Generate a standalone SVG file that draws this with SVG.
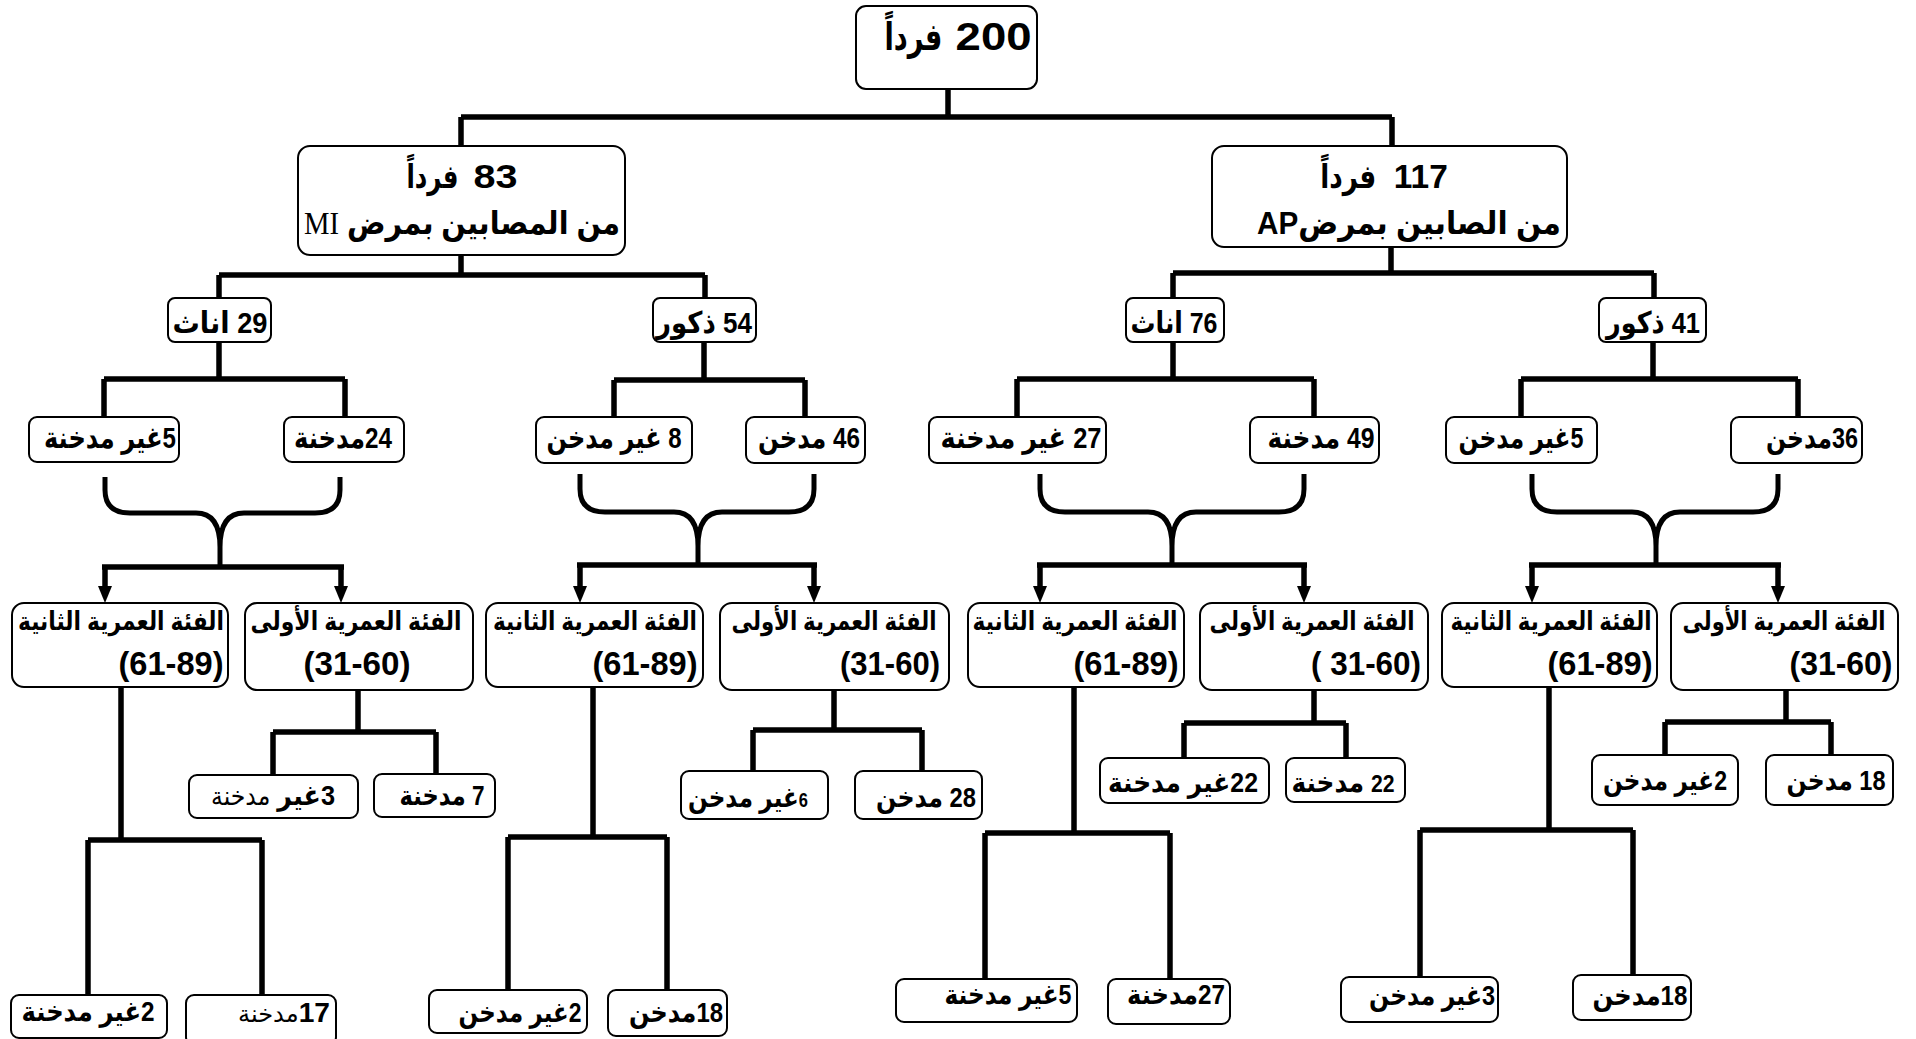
<svg xmlns="http://www.w3.org/2000/svg" width="1916" height="1039" viewBox="0 0 1916 1039">
<style>
.bx{fill:#fff;stroke:#000;stroke-width:2}
.t{font-family:"Liberation Sans","DejaVu Sans",sans-serif;font-weight:bold;fill:#000;text-anchor:middle;direction:rtl}
.n{font-family:"Liberation Sans","DejaVu Sans",sans-serif;font-weight:bold;fill:#000;text-anchor:middle}
.c{fill:none;stroke:#000;stroke-width:5.5}
.b{fill:none;stroke:#000;stroke-width:5}
.lt{font-weight:normal}
</style>
<defs>
<marker id="arr" viewBox="0 0 17 14" refX="0" refY="7" markerWidth="17" markerHeight="14" markerUnits="userSpaceOnUse" orient="auto">
<path d="M0,0 L17,7 L0,14 z" fill="#000"/>
</marker>
</defs>
<rect width="1916" height="1039" fill="#fff"/>
<g id="connectors">
<path class="c" d="M948,89 V117 M461,117 H1392 M461,117 V147 M1392,117 V147"/>
<path class="c" d="M461,255 V275 M219,275 H705 M219,275 V298 M705,275 V298"/>
<path class="c" d="M1391,247 V273 M1173,273 H1654 M1173,273 V298 M1654,273 V298"/>
<path class="c" d="M219,342 V379 M104,379 H345 M104,379 V417 M345,379 V417"/>
<path class="c" d="M704,342 V380 M614,380 H805 M614,380 V417 M805,380 V417"/>
<path class="c" d="M1173,342 V379 M1017,379 H1314 M1017,379 V417 M1314,379 V417"/>
<path class="c" d="M1653,342 V379 M1521,379 H1798 M1521,379 V417 M1798,379 V417"/>
<path class="b" d="M105,477 V490 Q105,513 130,513 H196 Q220,513 220,547 V567 M340,477 V490 Q340,513 315,513 H244 Q220,513 220,547"/>
<path class="b" d="M580,474 V489 Q580,512 605,512 H674 Q698,512 698,546 V565 M814,474 V489 Q814,512 789,512 H722 Q698,512 698,546"/>
<path class="b" d="M1040,474 V489 Q1040,512 1065,512 H1148 Q1172,512 1172,546 V565 M1304,474 V489 Q1304,512 1279,512 H1196 Q1172,512 1172,546"/>
<path class="b" d="M1532,474 V489 Q1532,512 1557,512 H1632 Q1656,512 1656,546 V565 M1778,474 V489 Q1778,512 1753,512 H1680 Q1656,512 1656,546"/>
<path class="c" d="M102,567 H344 M577,565 H817 M1037,565 H1307 M1529,565 H1781"/>
<path class="c" d="M105,567 V586" marker-end="url(#arr)"/>
<path class="c" d="M341,567 V586" marker-end="url(#arr)"/>
<path class="c" d="M580,565 V586" marker-end="url(#arr)"/>
<path class="c" d="M814,565 V586" marker-end="url(#arr)"/>
<path class="c" d="M1040,565 V586" marker-end="url(#arr)"/>
<path class="c" d="M1304,565 V586" marker-end="url(#arr)"/>
<path class="c" d="M1532,565 V586" marker-end="url(#arr)"/>
<path class="c" d="M1778,565 V586" marker-end="url(#arr)"/>
<path class="c" d="M121,687 V840 M88,840 H262 M88,840 V995 M262,840 V995"/>
<path class="c" d="M358,690 V732 M273,732 H436 M273,732 V774 M436,732 V774"/>
<path class="c" d="M593,687 V837 M508,837 H667 M508,837 V990 M667,837 V990"/>
<path class="c" d="M834,690 V730 M753,730 H922 M753,730 V770 M922,730 V770"/>
<path class="c" d="M1074,687 V833 M985,833 H1170 M985,833 V979 M1170,833 V979"/>
<path class="c" d="M1314,690 V723 M1184,723 H1346 M1184,723 V759 M1346,723 V759"/>
<path class="c" d="M1549,687 V830 M1420,830 H1633 M1420,830 V977 M1633,830 V977"/>
<path class="c" d="M1786,690 V722 M1665,722 H1831 M1665,722 V755 M1831,722 V755"/>
</g>

<g id="root"><rect class="bx" x="856" y="6" width="181" height="83" rx="10"/><text class="t" x="958" y="50" font-size="38"><tspan textLength="76" lengthAdjust="spacingAndGlyphs">200</tspan><tspan font-size="10"> </tspan><tspan textLength="58" lengthAdjust="spacingAndGlyphs">فرداً</tspan></text></g>

<g id="mi"><rect class="bx" x="298" y="146" width="327" height="109" rx="12"/>
<text class="t" x="462" y="188" font-size="33"><tspan textLength="44" lengthAdjust="spacingAndGlyphs">83</tspan><tspan font-size="14"> </tspan><tspan textLength="52" lengthAdjust="spacingAndGlyphs">فرداً</tspan></text>
<text class="t" x="462" y="234" font-size="32" textLength="316" lengthAdjust="spacingAndGlyphs">من المصابين بمرض <tspan font-family="Liberation Serif" font-weight="normal">MI</tspan></text></g>

<g id="ap"><rect class="bx" x="1212" y="146" width="355" height="101" rx="12"/>
<text class="t" x="1384" y="188" font-size="33"><tspan textLength="54" lengthAdjust="spacingAndGlyphs">117</tspan><tspan font-size="14"> </tspan><tspan textLength="56" lengthAdjust="spacingAndGlyphs">فرداً</tspan></text>
<text class="t" x="1409" y="234" font-size="32" textLength="304" lengthAdjust="spacingAndGlyphs">من الصابين بمرضAP</text></g>

<g id="f29"><rect class="bx" x="168" y="298" width="103" height="44" rx="7"/><text class="t" x="220" y="333" font-size="30" textLength="95" lengthAdjust="spacingAndGlyphs">29 اناث</text></g>
<g id="m54"><rect class="bx" x="653" y="298" width="103" height="44" rx="7"/><text class="t" x="704" y="333" font-size="30" textLength="96" lengthAdjust="spacingAndGlyphs">54 ذكور</text></g>
<g id="f76"><rect class="bx" x="1126" y="298" width="98" height="44" rx="7"/><text class="t" x="1174" y="333" font-size="30" textLength="87" lengthAdjust="spacingAndGlyphs">76 اناث</text></g>
<g id="m41"><rect class="bx" x="1599" y="298" width="107" height="44" rx="7"/><text class="t" x="1653" y="333" font-size="30" textLength="94" lengthAdjust="spacingAndGlyphs">41 ذكور</text></g>

<g id="s1"><rect class="bx" x="29" y="417" width="150" height="45" rx="8"/><text class="t" x="110" y="448" font-size="30" textLength="132" lengthAdjust="spacingAndGlyphs">5غير مدخنة</text></g>
<g id="s2"><rect class="bx" x="284" y="417" width="120" height="45" rx="8"/><text class="t" x="343" y="448" font-size="30" textLength="98" lengthAdjust="spacingAndGlyphs">24مدخنة</text></g>
<g id="s3"><rect class="bx" x="536" y="417" width="156" height="46" rx="8"/><text class="t" x="614" y="448" font-size="30" textLength="135" lengthAdjust="spacingAndGlyphs">8 غير مدخن</text></g>
<g id="s4"><rect class="bx" x="746" y="417" width="119" height="46" rx="8"/><text class="t" x="809" y="448" font-size="30" textLength="102" lengthAdjust="spacingAndGlyphs">46 مدخن</text></g>
<g id="s5"><rect class="bx" x="929" y="417" width="177" height="46" rx="8"/><text class="t" x="1021" y="448" font-size="30" textLength="161" lengthAdjust="spacingAndGlyphs">27 غير مدخنة</text></g>
<g id="s6"><rect class="bx" x="1250" y="417" width="129" height="46" rx="8"/><text class="t" x="1321" y="448" font-size="30" textLength="107" lengthAdjust="spacingAndGlyphs">49 مدخنة</text></g>
<g id="s7"><rect class="bx" x="1446" y="417" width="151" height="46" rx="8"/><text class="t" x="1521" y="448" font-size="30" textLength="125" lengthAdjust="spacingAndGlyphs">5غير مدخن</text></g>
<g id="s8"><rect class="bx" x="1731" y="417" width="131" height="46" rx="8"/><text class="t" x="1812" y="448" font-size="30" textLength="92" lengthAdjust="spacingAndGlyphs">36مدخن</text></g>

<g id="a2"><rect class="bx" x="12" y="603" width="216" height="84" rx="12"/><text class="t" x="121" y="630" font-size="26" textLength="206" lengthAdjust="spacingAndGlyphs">الفئة العمرية الثانية</text><text class="n" x="171" y="675" font-size="33" textLength="105" lengthAdjust="spacingAndGlyphs">(61-89)</text></g>
<g id="a1"><rect class="bx" x="245" y="603" width="228" height="87" rx="12"/><text class="t" x="356" y="630" font-size="26" textLength="211" lengthAdjust="spacingAndGlyphs">الفئة العمرية الأولى</text><text class="n" x="357" y="675" font-size="33" textLength="107" lengthAdjust="spacingAndGlyphs">(31-60)</text></g>
<g id="b2"><rect class="bx" x="486" y="603" width="217" height="84" rx="12"/><text class="t" x="595" y="630" font-size="26" textLength="204" lengthAdjust="spacingAndGlyphs">الفئة العمرية الثانية</text><text class="n" x="645" y="675" font-size="33" textLength="105" lengthAdjust="spacingAndGlyphs">(61-89)</text></g>
<g id="b1"><rect class="bx" x="720" y="603" width="229" height="87" rx="12"/><text class="t" x="834" y="630" font-size="26" textLength="205" lengthAdjust="spacingAndGlyphs">الفئة العمرية الأولى</text><text class="n" x="890" y="675" font-size="33" textLength="100" lengthAdjust="spacingAndGlyphs">(31-60)</text></g>
<g id="c2"><rect class="bx" x="968" y="603" width="216" height="84" rx="12"/><text class="t" x="1075" y="630" font-size="26" textLength="205" lengthAdjust="spacingAndGlyphs">الفئة العمرية الثانية</text><text class="n" x="1126" y="675" font-size="33" textLength="105" lengthAdjust="spacingAndGlyphs">(61-89)</text></g>
<g id="c1"><rect class="bx" x="1200" y="603" width="228" height="87" rx="12"/><text class="t" x="1312" y="630" font-size="26" textLength="205" lengthAdjust="spacingAndGlyphs">الفئة العمرية الأولى</text><text class="n" x="1366" y="675" font-size="33" textLength="110" lengthAdjust="spacingAndGlyphs">( 31-60)</text></g>
<g id="d2"><rect class="bx" x="1442" y="603" width="215" height="84" rx="12"/><text class="t" x="1551" y="630" font-size="26" textLength="201" lengthAdjust="spacingAndGlyphs">الفئة العمرية الثانية</text><text class="n" x="1600" y="675" font-size="33" textLength="105" lengthAdjust="spacingAndGlyphs">(61-89)</text></g>
<g id="d1"><rect class="bx" x="1671" y="603" width="227" height="87" rx="12"/><text class="t" x="1784" y="630" font-size="26" textLength="203" lengthAdjust="spacingAndGlyphs">الفئة العمرية الأولى</text><text class="n" x="1841" y="675" font-size="33" textLength="103" lengthAdjust="spacingAndGlyphs">(31-60)</text></g>

<g id="a1l"><rect class="bx" x="189" y="775" width="169" height="43" rx="8"/><text class="t" x="273" y="805" font-size="28" textLength="124" lengthAdjust="spacingAndGlyphs">3غير <tspan class="lt" font-size="26">مدخنة</tspan></text></g>
<g id="a1r"><rect class="bx" x="374" y="774" width="121" height="43" rx="8"/><text class="t" x="442" y="805" font-size="28" textLength="85" lengthAdjust="spacingAndGlyphs">7 مدخنة</text></g>
<g id="b1l"><rect class="bx" x="681" y="771" width="147" height="48" rx="8"/><text class="t" x="748" y="807" font-size="28" textLength="120" lengthAdjust="spacingAndGlyphs"><tspan font-size="20">6</tspan>غير مدخن</text></g>
<g id="b1r"><rect class="bx" x="855" y="771" width="127" height="48" rx="8"/><text class="t" x="926" y="807" font-size="28" textLength="100" lengthAdjust="spacingAndGlyphs">28 مدخن</text></g>
<g id="c1l"><rect class="bx" x="1100" y="758" width="169" height="45" rx="8"/><text class="t" x="1183" y="792" font-size="28" textLength="150" lengthAdjust="spacingAndGlyphs">22غير مدخنة</text></g>
<g id="c1r"><rect class="bx" x="1286" y="758" width="119" height="44" rx="8"/><text class="t" x="1343" y="792" font-size="28" textLength="103" lengthAdjust="spacingAndGlyphs"><tspan font-size="24">22</tspan> مدخنة</text></g>
<g id="d1l"><rect class="bx" x="1592" y="755" width="146" height="50" rx="8"/><text class="t" x="1665" y="790" font-size="28" textLength="124" lengthAdjust="spacingAndGlyphs">2غير مدخن</text></g>
<g id="d1r"><rect class="bx" x="1766" y="755" width="127" height="50" rx="8"/><text class="t" x="1836" y="790" font-size="28" textLength="99" lengthAdjust="spacingAndGlyphs">18 مدخن</text></g>

<g id="a2l"><rect class="bx" x="11" y="995" width="156" height="43" rx="8"/><text class="t" x="88" y="1021" font-size="28" textLength="133" lengthAdjust="spacingAndGlyphs">2غير مدخنة</text></g>
<g id="a2r"><rect class="bx" x="186" y="995" width="150" height="50" rx="8"/><text class="t" x="284" y="1022" font-size="28" textLength="92" lengthAdjust="spacingAndGlyphs">17<tspan class="lt" font-size="24">مدخنة</tspan></text></g>
<g id="b2l"><rect class="bx" x="429" y="990" width="158" height="43" rx="8"/><text class="t" x="520" y="1022" font-size="28" textLength="123" lengthAdjust="spacingAndGlyphs">2غير مدخن</text></g>
<g id="b2r"><rect class="bx" x="608" y="990" width="119" height="46" rx="8"/><text class="t" x="676" y="1022" font-size="28" textLength="94" lengthAdjust="spacingAndGlyphs">18مدخن</text></g>
<g id="c2l"><rect class="bx" x="896" y="979" width="181" height="43" rx="8"/><text class="t" x="1008" y="1004" font-size="28" textLength="127" lengthAdjust="spacingAndGlyphs">5غير مدخنة</text></g>
<g id="c2r"><rect class="bx" x="1108" y="979" width="122" height="45" rx="8"/><text class="t" x="1176" y="1004" font-size="28" textLength="98" lengthAdjust="spacingAndGlyphs">27مدخنة</text></g>
<g id="d2l"><rect class="bx" x="1341" y="977" width="157" height="45" rx="8"/><text class="t" x="1432" y="1005" font-size="28" textLength="126" lengthAdjust="spacingAndGlyphs">3غير مدخن</text></g>
<g id="d2r"><rect class="bx" x="1573" y="975" width="118" height="45" rx="8"/><text class="t" x="1640" y="1005" font-size="28" textLength="95" lengthAdjust="spacingAndGlyphs">18مدخن</text></g>
</svg>
